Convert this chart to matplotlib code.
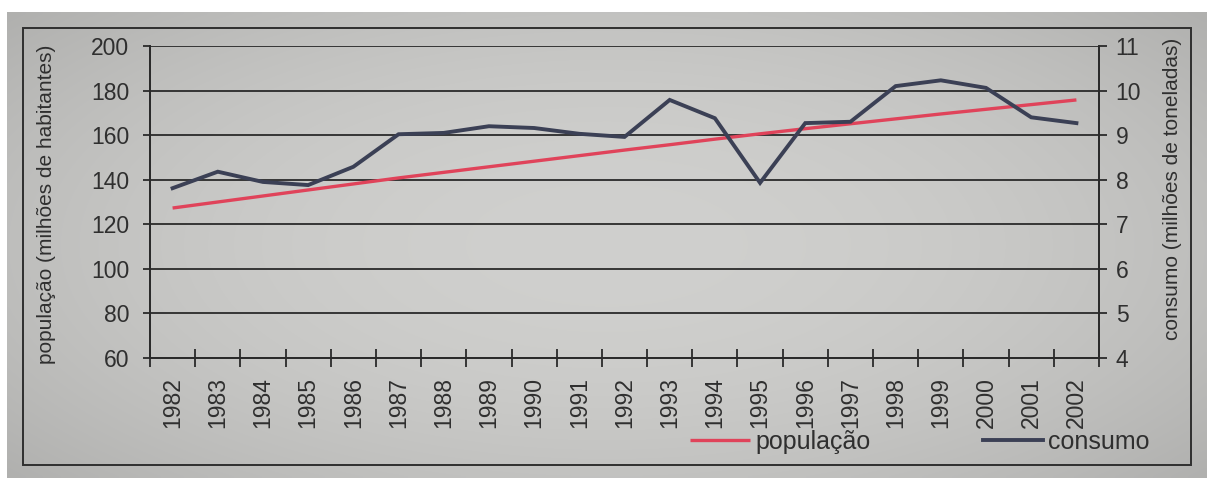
import matplotlib
matplotlib.use("Agg")
import matplotlib.pyplot as plt
import matplotlib.patches as mpatches
import numpy as np

# Brazil: population (millions) and consumption (millions of tonnes), 1982-2002
anos = list(range(1982, 2003))
populacao = [127.3, 130.0, 132.7, 135.4, 138.1, 140.8, 143.3, 145.8, 148.3, 150.8,
             153.3, 155.7, 158.2, 160.6, 162.9, 165.1, 167.3, 169.5, 171.6, 173.7,
             175.8]
consumo = [7.81, 8.18, 7.95, 7.88, 8.29, 9.02, 9.05, 9.20, 9.16, 9.03,
           8.96, 9.79, 9.38, 7.93, 9.27, 9.30, 10.10, 10.23, 10.06, 9.40,
           9.27]
pop_ticks = list(range(60, 201, 20))
cons_ticks = list(range(4, 12))

INK = "#2f2f2f"
GRID = "#2a2a2a"
RED = "#e0435a"
DARK = "#3b4055"
W, H = 1207, 478

plt.rcParams["font.family"] = ["Liberation Sans", "DejaVu Sans"]

fig = plt.figure(figsize=(W / 100, H / 100), dpi=100, facecolor="white")

# paper-grey backdrop with darker corners
bg = fig.add_axes([7 / W, 0, 1 - 7 / W, 1 - 12 / H], zorder=-10)
gx, gy = np.meshgrid(np.linspace(-1, 1, 300), np.linspace(-1, 1, 120))
shade = np.clip(208 - 18 * (gx ** 2) - 14 * (gy ** 2), 0, 255) / 255.0
bg.imshow(np.dstack([shade, shade, shade * 0.99]), aspect="auto",
          interpolation="bilinear", extent=(0, 1, 0, 1))
bg.set_axis_off()

# outer chart frame
fig.patches.append(mpatches.Rectangle(
    (23 / W, 1 - 465 / H), (1191 - 23) / W, (465 - 28) / H,
    transform=fig.transFigure, fill=False, edgecolor=INK, linewidth=1.4))

ax = fig.add_axes([150 / W, 1 - 358 / H, (1099 - 150) / W, (358 - 46) / H])
ax.set_facecolor("none")
ax2 = ax.twinx()

x = np.arange(len(anos))
l1, = ax.plot(x, populacao, color=RED, linewidth=2.4, solid_capstyle="butt")
l2, = ax2.plot(x, consumo, color=DARK, linewidth=2.8, solid_joinstyle="miter")

ax.set_xlim(-0.5, len(anos) - 0.5)
ax.set_ylim(60, 200)
ax2.set_ylim(4, 11)
ax.set_yticks(pop_ticks)
ax2.set_yticks(cons_ticks)
ax.grid(axis="y", color=GRID, linewidth=1.3)
ax.set_axisbelow(True)

# category boundaries carry the tick marks, years sit between them
ax.set_xticks(np.arange(-0.5, len(anos), 1))
ax.set_xticklabels([])
ax.set_xticks(x, minor=True)
ax.set_xticklabels([str(a) for a in anos], minor=True, rotation=90)
ax.tick_params(axis="x", which="major", direction="inout", length=13,
               width=1.3, color=GRID)
ax.tick_params(axis="x", which="minor", length=0, pad=14,
               labelsize=16.5, labelcolor=INK)
ax.tick_params(axis="y", direction="out", length=5, width=1.3, color=GRID,
               pad=10, labelsize=16.5, labelcolor=INK)
ax2.tick_params(axis="y", direction="out", length=6, width=1.3, color=GRID,
                pad=6, labelsize=16.5, labelcolor=INK)

for a in (ax, ax2):
    a.spines["top"].set_visible(False)
    for s in ("left", "right", "bottom"):
        a.spines[s].set_color(GRID)
        a.spines[s].set_linewidth(1.3)

fig.text(47 / W, 1 - 204 / H, "população (milhões de habitantes)",
         rotation=90, ha="center", va="center", fontsize=15, color=INK)
fig.text(1172 / W, 1 - 189 / H, "consumo (milhões de toneladas)",
         rotation=90, ha="center", va="center", fontsize=15, color=INK)

fig.legend(handles=[l1, l2], labels=["população", "consumo"],
           loc="center left", bbox_to_anchor=(690 / W, 1 - 442 / H),
           ncol=2, frameon=False, handlelength=2.4, handletextpad=0.2,
           columnspacing=4.5, borderpad=0, borderaxespad=0,
           fontsize=18, labelcolor=INK)

fig.savefig("out.png", dpi=100, facecolor="white")
